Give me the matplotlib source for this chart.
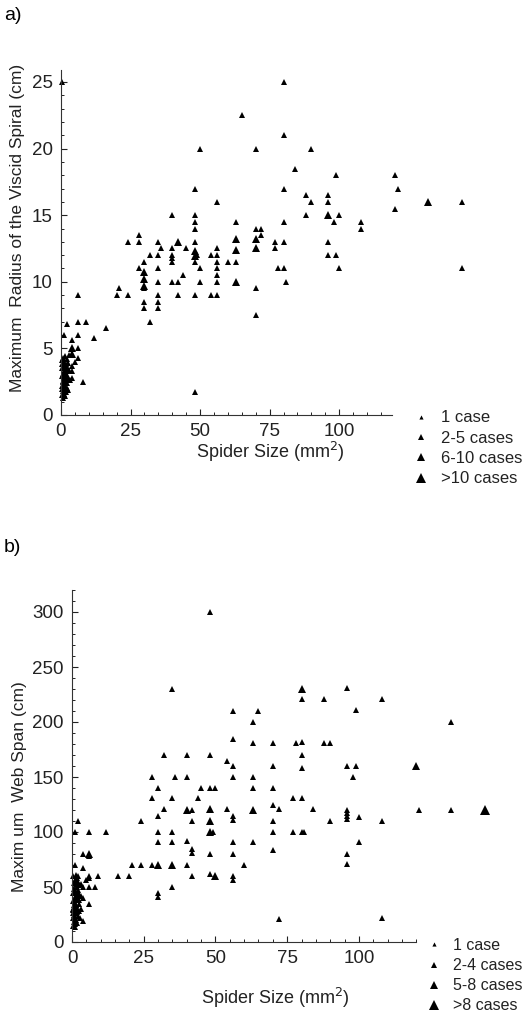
import matplotlib
matplotlib.use("Agg")
import matplotlib.pyplot as plt
from matplotlib.lines import Line2D
from matplotlib.ticker import FixedLocator

plt.rcParams['font.family'] = ['Liberation Sans', 'DejaVu Sans']

# ---- panel a) : spider size vs max radius of viscid spiral ----
a_small = [(0.5, 25), (65, 22.5), (50, 20), (70, 20), (90, 20), (80, 25), (80, 21), (84, 18.5),
           (99, 18), (120, 18), (80, 17), (121, 17), (88, 16.5), (96, 16.5), (90, 16), (96, 16),
           (144, 16), (48, 17), (56, 16), (40, 15), (48, 15), (48, 14.5), (48, 14), (63, 14.5),
           (70, 14), (72, 14), (72, 13.5), (120, 15.5), (88, 15), (100, 15), (98, 14.5),
           (108, 14.5), (108, 14), (80, 14.5), (28, 13.5), (28, 13), (24, 13), (35, 13), (48, 13),
           (77, 13), (77, 12.5), (80, 13), (96, 13), (36, 12.5), (45, 12.5), (40, 12.5), (40, 12),
           (40, 11.8), (49, 12), (56, 12.5), (56, 12), (54, 12), (32, 12), (35, 12), (96, 12),
           (99, 12), (30, 11.5), (40, 11.5), (48, 11.5), (56, 11.5), (56, 11), (56, 10.5),
           (60, 11.5), (63, 11.5), (28, 11), (35, 11), (50, 11), (78, 11), (80, 11), (100, 11),
           (144, 11), (44, 10.5), (35, 10), (40, 10), (42, 10), (50, 10), (56, 10), (81, 10),
           (30, 9.5), (21, 9.5), (70, 9.5), (6, 9), (20, 9), (24, 9), (35, 9), (42, 9), (48, 9),
           (54, 9), (56, 9), (30, 8.5), (35, 8.5), (30, 8), (35, 8), (70, 7.5), (32, 7),
           (16, 6.5), (12, 5.8), (6, 7), (9, 7), (1, 6), (2, 6.8), (6, 6), (4, 5.6), (6, 5),
           (6, 4.3), (5, 4), (4, 3.7), (4, 3.3), (4, 2.8), (8, 2.5), (48, 1.7),
           (0.3, 1.5), (0.6, 1.8), (1.0, 1.6), (1.4, 1.9), (1.8, 1.7), (2.2, 2.0), (0.4, 2.2),
           (0.8, 2.5), (1.2, 2.3), (1.6, 2.6), (2.0, 2.4), (2.4, 2.7), (0.3, 2.9), (0.7, 3.1),
           (1.1, 2.9), (1.5, 3.2), (1.9, 3.0), (2.3, 3.3), (0.5, 3.5), (0.9, 3.7), (1.3, 3.5),
           (1.7, 3.8), (2.1, 3.6), (2.5, 3.9), (0.4, 4.1), (0.8, 4.3), (1.2, 4.0), (1.6, 4.4),
           (2.0, 4.2), (2.8, 4.5), (3.0, 3.4), (3.2, 2.6), (0.6, 1.3), (1.5, 1.4), (2.6, 1.9)]
a_mid = [(42, 13), (48, 12.3), (48, 11.9), (63, 13.2), (63, 12.4), (63, 10), (70, 13.2),
         (70, 12.5), (30, 10.7), (30, 10.2), (30, 9.7), (96, 15), (132, 16), (4, 5), (4, 4.6),
         (1.0, 2.6), (1.5, 3.4), (0.8, 3.9)]
a_big = [(1.2, 2.1), (1.8, 3.0)]
a_legend = ['1 case', '2-5 cases', '6-10 cases', '>10 cases']

# ---- panel b) : spider size vs max web span ----
b_small = [(48, 300), (35, 230), (96, 231), (80, 221), (88, 221), (108, 221), (99, 211), (56, 210),
           (65, 210), (63, 200), (132, 200), (56, 185), (63, 181), (70, 181), (78, 181), (80, 182),
           (88, 181), (90, 181), (32, 170), (40, 170), (48, 170), (80, 170), (54, 165), (56, 160),
           (70, 160), (80, 158), (96, 160), (99, 160), (28, 150), (36, 150), (40, 150), (56, 150),
           (63, 150), (98, 150), (30, 140), (45, 140), (48, 140), (50, 140), (63, 140), (70, 140),
           (77, 131), (80, 131), (28, 131), (35, 131), (44, 131), (70, 125), (72, 121), (84, 121),
           (96, 120), (96, 117), (96, 115), (96, 112), (90, 110), (100, 114), (108, 110), (70, 110),
           (70, 100), (77, 100), (80, 100), (81, 100), (70, 84), (100, 91), (96, 80), (96, 71),
           (72, 21), (108, 22), (121, 120), (132, 120), (32, 121), (42, 120), (54, 121), (56, 115),
           (56, 111), (30, 115), (24, 110), (42, 110), (6, 100), (12, 100), (30, 100), (35, 100),
           (49, 100), (30, 91), (35, 91), (40, 92), (42, 85), (42, 81), (48, 80), (56, 91),
           (63, 91), (56, 80), (6, 78), (21, 70), (24, 70), (28, 70), (40, 70), (60, 70), (9, 60),
           (16, 60), (20, 60), (42, 60), (48, 62), (56, 60), (56, 56), (6, 58), (6, 50), (8, 50),
           (35, 50), (30, 45), (30, 41), (2, 110), (1, 100), (4, 80), (1, 70), (4, 67), (2, 60),
           (5, 56), (6, 60), (4, 50), (4, 40), (6, 35), (4, 19), (1, 14),
           (0.3, 15), (0.7, 18), (1.1, 16), (1.5, 20), (1.9, 17), (0.4, 22), (0.8, 25), (1.2, 23),
           (1.6, 27), (2.0, 24), (2.4, 28), (0.3, 30), (0.7, 32), (1.1, 29), (1.5, 34), (1.9, 31),
           (2.3, 35), (0.5, 37), (0.9, 40), (1.3, 38), (1.7, 42), (2.1, 39), (2.5, 44), (0.4, 45),
           (0.8, 48), (1.2, 46), (1.6, 50), (2.0, 47), (2.4, 52), (0.6, 54), (1.0, 56), (1.4, 53),
           (1.8, 58), (2.2, 55), (0.5, 60), (1.3, 61), (3.0, 42), (3.2, 30), (2.8, 22), (3.0, 53)]
b_mid = [(80, 230), (120, 160), (40, 120), (48, 121), (63, 120), (30, 70), (35, 70), (50, 60),
         (48, 110), (48, 100), (6, 80), (1.0, 35), (1.6, 44), (0.8, 27)]
b_big = [(144, 120), (1.2, 31), (1.8, 40)]
b_legend = ['1 case', '2-4 cases', '5-8 cases', '>8 cases']

sizes = [3.0, 4.3, 5.5, 7.0]

W, H = 531, 1017
fig = plt.figure(figsize=(W / 100, H / 100), dpi=100)


def draw_panel(rect, groups, xlim, ylim, xspine, yticks, yminor, ylabel, ylab_xy, xlab_xy,
               legend_labels, leg_xy, leg_fs):
    ax = fig.add_axes(rect)
    for pts, ms in zip(groups, sizes[1:]):
        xs = [p[0] for p in pts]
        ys = [p[1] for p in pts]
        ax.plot(xs, ys, linestyle='none', marker='^', color='black', markersize=ms,
                markeredgewidth=0, clip_on=False)
    ax.set_xlim(*xlim)
    ax.set_ylim(*ylim)
    for s in ['top', 'right']:
        ax.spines[s].set_visible(False)
    ax.spines['bottom'].set_bounds(0, xspine)
    ax.spines['left'].set_color('#333333')
    ax.spines['bottom'].set_color('#333333')
    ax.set_xticks([0, 25, 50, 75, 100])
    ax.xaxis.set_minor_locator(FixedLocator(list(range(0, xspine + 1, 5))))
    ax.set_yticks(yticks)
    ax.yaxis.set_minor_locator(FixedLocator(yminor))
    ax.tick_params(direction='in', length=4, width=0.8, labelsize=13.5, pad=6,
                   colors='#222222')
    ax.tick_params(which='minor', direction='in', length=2, width=0.6)
    fig.text(ylab_xy[0] / W, 1 - ylab_xy[1] / H, ylabel, rotation=90, ha='center',
             va='center', fontsize=12.5, color='#222222')
    fig.text(xlab_xy[0] / W, 1 - xlab_xy[1] / H, 'Spider Size (mm$^2$)', ha='center',
             va='center', fontsize=13, color='#222222')
    handles = [Line2D([], [], linestyle='none', marker='^', color='black', markersize=m,
                      markeredgewidth=0) for m in sizes]
    ax.legend(handles, legend_labels, loc='upper left', frameon=False, fontsize=leg_fs,
              bbox_to_anchor=(leg_xy[0] / W, 1 - leg_xy[1] / H), bbox_transform=fig.transFigure,
              handletextpad=0.7, labelspacing=0.32, borderpad=0, handlelength=1.0,
              labelcolor='#222222')
    return ax


draw_panel([61 / W, 1 - 415 / H, 445 / W, 345 / H],
           [a_small, a_mid, a_big], (0, 160), (0, 25.9), 119,
           [0, 5, 10, 15, 20, 25], list(range(0, 26)),
           'Maximum  Radius of the Viscid Spiral (cm)', (18, 228), (270, 452),
           a_legend, (404, 402), 12)

draw_panel([72 / W, 1 - 942 / H, 459 / W, 352 / H],
           [b_small, b_mid, b_big], (0, 160), (0, 320), 120,
           [0, 50, 100, 150, 200, 250, 300], list(range(0, 321, 10)),
           'Maxim um  Web Span (cm)', (20, 787), (275, 998),
           b_legend, (418, 930), 11.5)

fig.text(4 / W, 1 - 15 / H, 'a)', ha='left', va='center', fontsize=14)
fig.text(4 / W, 1 - 547 / H, 'b)', ha='left', va='center', fontsize=14)

fig.savefig('out.png', dpi=100, facecolor='white')
